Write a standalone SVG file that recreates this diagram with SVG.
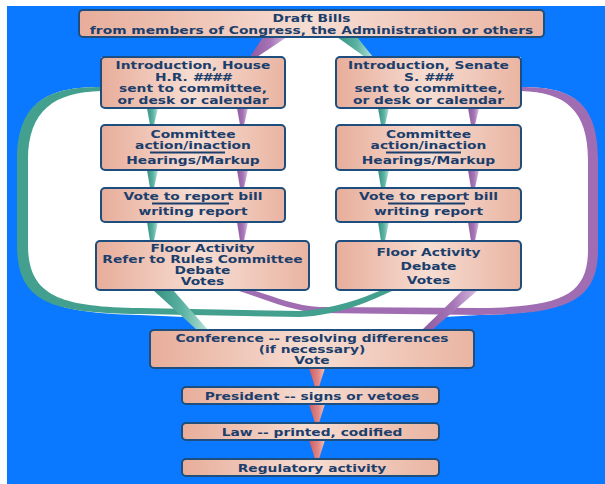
<svg xmlns="http://www.w3.org/2000/svg" width="605" height="484" viewBox="0 0 605 484">
<defs>
<linearGradient id="box" x1="0" y1="0" x2="1" y2="0">
<stop offset="0" stop-color="#e8ad9a"/>
<stop offset="0.5" stop-color="#f6ddd2"/>
<stop offset="1" stop-color="#eab4a2"/>
</linearGradient>
<linearGradient id="teal" x1="0" y1="0" x2="1" y2="0">
<stop offset="0" stop-color="#35907f"/>
<stop offset="0.55" stop-color="#5cb3a3"/>
<stop offset="1" stop-color="#b8e2da"/>
</linearGradient>
<linearGradient id="purple" x1="0" y1="0" x2="1" y2="0">
<stop offset="0" stop-color="#8f5a9f"/>
<stop offset="0.55" stop-color="#a675b6"/>
<stop offset="1" stop-color="#d6bde0"/>
</linearGradient>
<linearGradient id="red" x1="0" y1="0" x2="1" y2="0">
<stop offset="0" stop-color="#cf5a5e"/>
<stop offset="0.6" stop-color="#e08a88"/>
<stop offset="1" stop-color="#f2c2bc"/>
</linearGradient>
</defs>
<style>
.box{fill:url(#box);stroke:#1d4e7e;stroke-width:2}
.t{font-family:"DejaVu Sans","Liberation Sans",sans-serif;font-weight:bold;font-size:10px;fill:#1b3e6c;text-anchor:middle}
.sep{stroke:#1b3e6c;stroke-width:2}
.tl{fill:url(#teal)}
.pl{fill:url(#purple)}
.rd{fill:url(#red)}
.tband{fill:#43a08f}
.pband{fill:#a06db2}
</style>
<rect x="0" y="0" width="605" height="484" fill="#ffffff"/>
<rect x="7" y="6" width="598" height="478" fill="#0a78ff"/>
<path d="M270,37 L343,37 L372,57 L521,57 L521,87 C570,87 597,100 597,160 L597,250 C597,300 565,313 480,315 L444,317 L430,330 L198,330 L184,317 L140,315 C50,313 18,300 18,245 L18,160 C18,100 50,87 101,87 L101,57 L250,57 Z" fill="#ffffff"/>
<g id="connectors">
<path class="pband" d="M521,87 C570,87 598,100 598,160 L598,250 C598,302 565,314 480,315 L320,313 C290,311 262,298 236,290 L252,290 C275,297 295,306 320,307 L480,308 C560,307 588,296 588,250 L588,160 C588,110 565,92 521,91 Z"/>
<path class="tband" d="M101,87 C50,87 17,100 17,160 L17,245 C17,302 50,313 140,314 L300,317 C342,315 372,300 394,290 L382,290 C362,298 335,309 300,311 L140,308 C60,307 28,296 28,245 L28,160 C28,110 55,92 101,91 Z"/>
<polygon class="pl" points="263,37 287,37 257,57 250,57"/>
<polygon class="tl" points="337,37 357,37 373,57 365,57"/>
<polygon class="tl" points="147,108 158,108 154,125 150,125"/>
<polygon class="tl" points="147,170 158,170 154,188 150,188"/>
<polygon class="tl" points="147,222 158,222 154,241 150,241"/>
<polygon class="pl" points="237,108 248,108 244,125 240,125"/>
<polygon class="pl" points="237,170 248,170 244,188 240,188"/>
<polygon class="pl" points="237,222 248,222 244,241 240,241"/>
<polygon class="tl" points="378,108 389,108 385,125 381,125"/>
<polygon class="tl" points="378,170 389,170 385,188 381,188"/>
<polygon class="tl" points="378,222 389,222 385,241 381,241"/>
<polygon class="pl" points="468,108 479,108 475,125 471,125"/>
<polygon class="pl" points="468,170 479,170 475,188 471,188"/>
<polygon class="pl" points="468,222 479,222 475,241 471,241"/>
<polygon class="tl" points="153,290 173,290 208,330 197,330"/>
<polygon class="pl" points="463,290 478,290 432,330 422,330"/>
<polygon class="rd" points="309,368 325,368 319,387 315,387"/>
<polygon class="rd" points="309,404 325,404 319,423 315,423"/>
<polygon class="rd" points="309,440 325,440 319,459 315,459"/>
</g>
<g id="draft">
<rect class="box" x="79" y="10" width="465" height="27" rx="4"/>
<text class="t" transform="translate(311.5,22) scale(1.38,1)">Draft Bills</text>
<text class="t" transform="translate(311.5,33.5) scale(1.38,1)">from members of Congress, the Administration or others</text>
</g>
<g id="house-intro">
<rect class="box" x="101" y="57" width="184" height="51" rx="4"/>
<text class="t" transform="translate(193,69) scale(1.38,1)">Introduction, House</text>
<text class="t" transform="translate(193,80.5) scale(1.38,1)">H.R. <tspan font-style="italic">####</tspan></text>
<text class="t" transform="translate(193,92) scale(1.38,1)">sent to committee,</text>
<text class="t" transform="translate(193,103.5) scale(1.38,1)">or desk or calendar</text>
</g>
<g id="senate-intro">
<rect class="box" x="336" y="57" width="185" height="51" rx="4"/>
<text class="t" transform="translate(428.5,69) scale(1.38,1)">Introduction, Senate</text>
<text class="t" transform="translate(428.5,80.5) scale(1.38,1)">S. <tspan font-style="italic">###</tspan></text>
<text class="t" transform="translate(428.5,92) scale(1.38,1)">sent to committee,</text>
<text class="t" transform="translate(428.5,103.5) scale(1.38,1)">or desk or calendar</text>
</g>
<g id="house-committee">
<rect class="box" x="101" y="125" width="184" height="45" rx="4"/>
<text class="t" transform="translate(193,138) scale(1.38,1)">Committee</text>
<text class="t" transform="translate(193,149) scale(1.38,1)">action/inaction</text>
<line class="sep" x1="150" y1="152.5" x2="225" y2="152.5"/>
<text class="t" transform="translate(193,164) scale(1.38,1)">Hearings/Markup</text>
</g>
<g id="senate-committee">
<rect class="box" x="336" y="125" width="185" height="45" rx="4"/>
<text class="t" transform="translate(428.5,138) scale(1.38,1)">Committee</text>
<text class="t" transform="translate(428.5,149) scale(1.38,1)">action/inaction</text>
<line class="sep" x1="386" y1="152.5" x2="461" y2="152.5"/>
<text class="t" transform="translate(428.5,164) scale(1.38,1)">Hearings/Markup</text>
</g>
<g id="house-vote">
<rect class="box" x="101" y="188" width="184" height="34" rx="4"/>
<text class="t" transform="translate(193,200) scale(1.38,1)">Vote to report bill</text>
<line class="sep" x1="152" y1="203.5" x2="229" y2="203.5"/>
<text class="t" transform="translate(193,214.5) scale(1.38,1)">writing report</text>
</g>
<g id="senate-vote">
<rect class="box" x="336" y="188" width="185" height="34" rx="4"/>
<text class="t" transform="translate(428.5,200) scale(1.38,1)">Vote to report bill</text>
<line class="sep" x1="388" y1="203.5" x2="465" y2="203.5"/>
<text class="t" transform="translate(428.5,214.5) scale(1.38,1)">writing report</text>
</g>
<g id="house-floor">
<rect class="box" x="96" y="241" width="213" height="49" rx="4"/>
<text class="t" transform="translate(202.5,252) scale(1.38,1)">Floor Activity</text>
<text class="t" transform="translate(202.5,263) scale(1.38,1)">Refer to Rules Committee</text>
<text class="t" transform="translate(202.5,274) scale(1.38,1)">Debate</text>
<text class="t" transform="translate(202.5,285) scale(1.38,1)">Votes</text>
</g>
<g id="senate-floor">
<rect class="box" x="336" y="241" width="185" height="49" rx="4"/>
<text class="t" transform="translate(428.5,256) scale(1.38,1)">Floor Activity</text>
<text class="t" transform="translate(428.5,270) scale(1.38,1)">Debate</text>
<text class="t" transform="translate(428.5,284) scale(1.38,1)">Votes</text>
</g>
<g id="conference">
<rect class="box" x="150" y="330" width="324" height="38" rx="4"/>
<text class="t" transform="translate(312,342) scale(1.38,1)">Conference -- resolving differences</text>
<text class="t" transform="translate(312,353) scale(1.38,1)">(if necessary)</text>
<text class="t" transform="translate(312,364) scale(1.38,1)">Vote</text>
</g>
<g id="president">
<rect class="box" x="182" y="387" width="257" height="17" rx="4"/>
<text class="t" transform="translate(312,399.5) scale(1.38,1)">President -- signs or vetoes</text>
</g>
<g id="law">
<rect class="box" x="182" y="423" width="257" height="17" rx="4"/>
<text class="t" transform="translate(312,435.5) scale(1.38,1)">Law -- printed, codified</text>
</g>
<g id="regulatory">
<rect class="box" x="182" y="459" width="257" height="17" rx="4"/>
<text class="t" transform="translate(312,471.5) scale(1.38,1)">Regulatory activity</text>
</g>
</svg>
